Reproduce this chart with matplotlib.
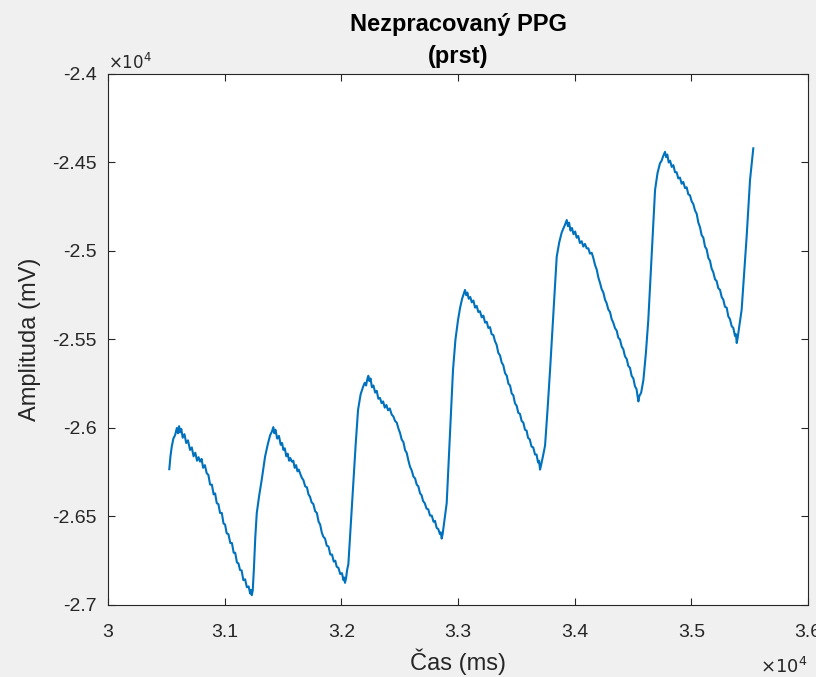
import matplotlib
matplotlib.use("Agg")
import matplotlib.pyplot as plt

# PPG samples (time in ms, amplitude in mV)
cas = [
    30525, 30535, 30546, 30560, 30575, 30590, 30600, 30609, 30618, 30628,
    30640, 30655, 30670, 30685, 30703, 30718, 30733, 30748, 30763, 30776,
    30789, 30802, 30815, 30830, 30846, 30860, 30875, 30890, 30905, 30918,
    30932, 30946, 30960, 30975, 30990, 31003, 31017, 31032, 31048, 31062,
    31077, 31090, 31105, 31118, 31131, 31145, 31160, 31175, 31190, 31205,
    31218, 31226, 31232, 31240,
    31250, 31262, 31275, 31296, 31317, 31346, 31370, 31390, 31405, 31417,
    31425, 31435,
    31450, 31465, 31480, 31492, 31503, 31515, 31528, 31540, 31552, 31563,
    31575, 31588, 31600, 31612, 31624, 31635, 31646, 31660, 31675, 31690,
    31705, 31718, 31731, 31745, 31760, 31775, 31790, 31805, 31818, 31832,
    31845, 31860, 31875, 31890, 31905, 31920, 31935, 31948, 31960, 31975,
    31990, 32005, 32018, 32025, 32031, 32040,
    32050, 32060, 32082, 32103, 32123, 32143, 32165, 32186, 32200, 32212,
    32222, 32231, 32240, 32250,
    32262, 32275, 32290, 32303, 32317, 32331, 32345, 32358, 32372, 32386,
    32400, 32415, 32432, 32446, 32460, 32475, 32490, 32503, 32517, 32532,
    32546, 32560, 32575, 32589, 32603, 32618, 32632, 32646, 32660, 32675,
    32688, 32700, 32715, 32730, 32745, 32760, 32775, 32790, 32803, 32817,
    32830, 32845, 32853, 32860, 32868,
    32880, 32903, 32930, 32957, 32978, 33000, 33018, 33035, 33048, 33060,
    33070, 33080,
    33092, 33105, 33118, 33132, 33146, 33160, 33174, 33188, 33203, 33217,
    33232, 33246, 33260, 33274, 33288, 33303, 33317, 33331, 33345, 33360,
    33374, 33388, 33403, 33418, 33432, 33446, 33460, 33474, 33488, 33503,
    33517, 33531, 33545, 33560, 33574, 33588, 33600, 33615, 33630, 33645,
    33660, 33673, 33686, 33695, 33703, 33712,
    33728, 33746, 33768, 33789, 33818, 33846, 33868, 33889, 33905, 33918,
    33932, 33942, 33952,
    33964, 33977, 33990, 34004, 34017, 34030, 34045, 34060, 34074, 34088,
    34103, 34117, 34131, 34146, 34160, 34175, 34189, 34203, 34217, 34231,
    34246, 34260, 34274, 34288, 34303, 34317, 34331, 34345, 34360, 34374,
    34388, 34403, 34417, 34431, 34446, 34460, 34474, 34488, 34503, 34517,
    34530, 34540, 34546, 34554,
    34570, 34589, 34610, 34631, 34660, 34689, 34710, 34731, 34745, 34758,
    34774, 34784, 34794,
    34806, 34818, 34832, 34846, 34860, 34874, 34888, 34902, 34917, 34931,
    34946, 34960, 34974, 34988, 35003, 35017, 35031, 35046, 35060, 35074,
    35088, 35103, 35117, 35131, 35146, 35160, 35174, 35188, 35203, 35217,
    35231, 35246, 35260, 35274, 35288, 35303, 35317, 35331, 35346, 35360,
    35374, 35382, 35389, 35396,
    35412, 35431, 35452, 35474, 35490, 35503, 35517, 35531,
]
amplituda = [
    -26233, -26160, -26106, -26060, -26040, -26000, -26030, -25990, -26025, -26005,
    -26055, -26035, -26085, -26070, -26124, -26110, -26160, -26140, -26185, -26165,
    -26190, -26175, -26225, -26210, -26256, -26265, -26320, -26320, -26375, -26370,
    -26425, -26430, -26480, -26480, -26540, -26545, -26595, -26600, -26650, -26650,
    -26705, -26705, -26760, -26765, -26802, -26805, -26860, -26855, -26900, -26895,
    -26935, -26915, -26945, -26920,
    -26800, -26620, -26480, -26380, -26294, -26162, -26090, -26040, -26020, -25995,
    -26030, -26010,
    -26060, -26045, -26095, -26085, -26124, -26115, -26160, -26145, -26185, -26170,
    -26190, -26185, -26225, -26210, -26245, -26235, -26256, -26280, -26295, -26330,
    -26335, -26375, -26388, -26420, -26430, -26470, -26480, -26530, -26545, -26590,
    -26614, -26625, -26665, -26670, -26715, -26715, -26755, -26750, -26784, -26790,
    -26825, -26820, -26860, -26845, -26875, -26850,
    -26800, -26770, -26530, -26294, -26090, -25898, -25810, -25768, -25745, -25760,
    -25725, -25705, -25735, -25720,
    -25770, -25760, -25800, -25790, -25835, -25830, -25860, -25850, -25885, -25870,
    -25900, -25890, -25925, -25935, -25960, -25970, -26005, -26028, -26065, -26080,
    -26125, -26140, -26185, -26220, -26240, -26275, -26285, -26320, -26330, -26370,
    -26380, -26412, -26425, -26455, -26460, -26495, -26495, -26530, -26525, -26565,
    -26570, -26600, -26590, -26625, -26600,
    -26540, -26424, -26050, -25672, -25500, -25390, -25320, -25270, -25245, -25220,
    -25250, -25235,
    -25270, -25260, -25290, -25280, -25320, -25310, -25345, -25340, -25375, -25365,
    -25405, -25400, -25435, -25430, -25470, -25475, -25510, -25530, -25575, -25590,
    -25630, -25645, -25690, -25705, -25750, -25760, -25805, -25815, -25860, -25875,
    -25915, -25920, -25960, -25970, -26010, -26015, -26055, -26065, -26105, -26110,
    -26150, -26150, -26195, -26185, -26235, -26210,
    -26160, -26100, -25890, -25672, -25350, -25032, -24950, -24895, -24870, -24850,
    -24825, -24860, -24840,
    -24885, -24870, -24905, -24890, -24925, -24915, -24955, -24945, -24975, -24960,
    -24985, -24985, -25015, -25010, -25040, -25080, -25105, -25150, -25180, -25215,
    -25235, -25275, -25295, -25330, -25345, -25385, -25405, -25435, -25450, -25490,
    -25500, -25540, -25555, -25595, -25610, -25650, -25660, -25705, -25720, -25765,
    -25780, -25825, -25850, -25820,
    -25800, -25729, -25580, -25390, -25020, -24655, -24560, -24505, -24490, -24465,
    -24440, -24470, -24455,
    -24500, -24490, -24525, -24515, -24555, -24555, -24590, -24585, -24620, -24610,
    -24645, -24640, -24680, -24685, -24720, -24735, -24770, -24790, -24840, -24865,
    -24910, -24925, -24975, -24990, -25040, -25055, -25100, -25120, -25160, -25170,
    -25210, -25220, -25260, -25275, -25315, -25320, -25370, -25385, -25425, -25435,
    -25480, -25470, -25520, -25495,
    -25420, -25333, -25130, -24919, -24740, -24599, -24510, -24420,
]

x_ticks = [30000, 31000, 32000, 33000, 34000, 35000, 36000]
x_labels = ["3", "3.1", "3.2", "3.3", "3.4", "3.5", "3.6"]
y_ticks = [-27000, -26500, -26000, -25500, -25000, -24500, -24000]
y_labels = ["-2.7", "-2.65", "-2.6", "-2.55", "-2.5", "-2.45", "-2.4"]

plt.rcParams["font.family"] = ["Liberation Sans", "DejaVu Sans"]
txt = "#262626"

fig = plt.figure(figsize=(8.16, 6.77), dpi=100, facecolor="#f0f0f0")
ax = fig.add_axes([0.1324, 0.1064, 0.8578, 0.7843])
ax.plot(cas, amplituda, color="#0072bd", linewidth=1.5)

ax.set_xlim(30000, 36000)
ax.set_ylim(-27000, -24000)
ax.set_xticks(x_ticks)
ax.set_xticklabels(x_labels)
ax.set_yticks(y_ticks)
ax.set_yticklabels(y_labels)
ax.tick_params(direction="in", length=5, width=0.8, top=True, right=True,
               labelsize=14, colors=txt)
ax.tick_params(axis="x", pad=14)
ax.tick_params(axis="y", pad=8)
for s in ax.spines.values():
    s.set_color(txt)
    s.set_linewidth(0.8)

ax.set_xlabel("Čas (ms)", fontsize=17, color=txt, labelpad=5)
ax.set_ylabel("Amplituda (mV)", fontsize=17, color=txt, labelpad=8)
ax.set_title("Nezpracovaný PPG\n(prst)", fontsize=17, fontweight="bold",
             color="black", pad=8, linespacing=1.5)

ax.text(0.0, 1.004, r"$\times10^{4}$", transform=ax.transAxes, fontsize=12,
        color=txt, ha="left", va="bottom")
ax.text(0.999, -0.097, r"$\times10^{4}$", transform=ax.transAxes, fontsize=13,
        color=txt, ha="right", va="top")

fig.savefig("out.png", dpi=100, facecolor=fig.get_facecolor())
